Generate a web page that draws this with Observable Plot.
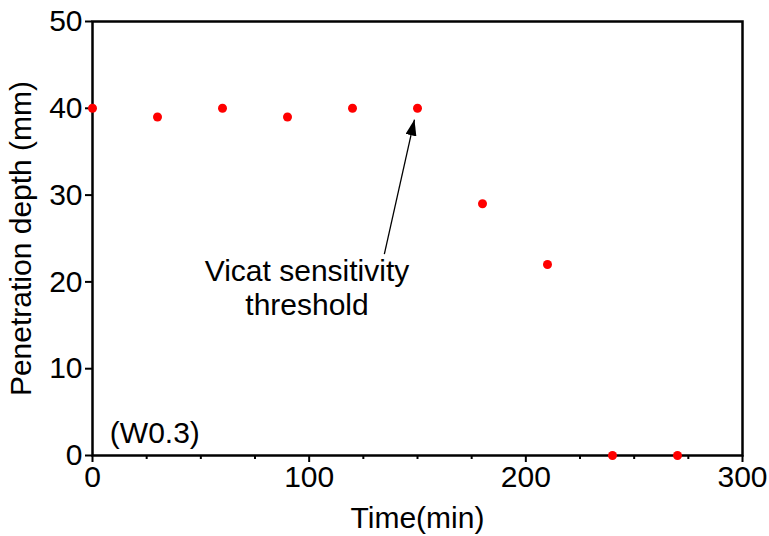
<!DOCTYPE html>
<html>
<head>
<meta charset="utf-8">
<script src="https://cdn.jsdelivr.net/npm/d3@7"></script>
<script src="https://cdn.jsdelivr.net/npm/@observablehq/plot@0.6"></script>
<style>
  html, body { margin: 0; padding: 0; background: #fff; }
  #chart svg { font-family: "Liberation Sans", Arial, sans-serif; }
</style>
</head>
<body>
<div id="chart"></div>
<script>
// Data
const times = [0, 30, 60, 90, 120, 150, 180, 210, 240, 270];
const depths = [40, 39, 40, 39, 40, 40, 29, 22, 0, 0];
const xMajorTicks = [0, 100, 200, 300];
const xMinorTicks = [25, 50, 75, 125, 150, 175, 225, 250, 275];
const yTicks = [0, 10, 20, 30, 40, 50];
const xLabel = "Time(min)";
const yLabel = "Penetration depth (mm)";
const sampleLabel = ["(W0.3)"];
const sampleLabelPos = [8, 2.5];
const noteLines = ["Vicat sensitivity", "threshold"];
const notePos = [99, 19.4];
const arrowFrom = [134.7, 23.2];
const arrowTo = [148.6, 38.7];

const points = times.map((t, i) => ({t, d: depths[i]}));

const chart = Plot.plot({
  width: 769,
  height: 536,
  marginLeft: 92,
  marginRight: 27,
  marginTop: 21,
  marginBottom: 81,
  style: {fontFamily: "'Liberation Sans', Arial, sans-serif", fontSize: "30px", color: "#000", background: "#fff"},
  x: {domain: [0, 300]},
  y: {domain: [0, 50]},
  marks: [
    Plot.frame({stroke: "#000", strokeWidth: 2.5}),
    Plot.axisX({ticks: xMinorTicks, tickSize: 4, tickFormat: () => "", strokeWidth: 2, label: null}),
    Plot.axisX({ticks: xMajorTicks, tickSize: 7, tickPadding: 3, strokeWidth: 2, fontSize: 30,
      label: xLabel, labelAnchor: "center", labelOffset: 72, labelArrow: "none"}),
    Plot.axisY({ticks: yTicks, tickSize: 7, tickPadding: 3, strokeWidth: 2, fontSize: 30,
      label: yLabel, labelAnchor: "center", labelOffset: 83, labelArrow: "none"}),
    Plot.dot(points, {x: "t", y: "d", r: 4.5, fill: "#ff0000", stroke: "none"}),
    Plot.text(sampleLabel, {x: sampleLabelPos[0], y: sampleLabelPos[1], text: d => d, textAnchor: "start", fontSize: 30, fill: "#000"}),
    Plot.text([noteLines.join("\n")], {x: notePos[0], y: notePos[1], text: d => d, textAnchor: "middle", lineHeight: 1.13, fontSize: 30, fill: "#000"}),
    Plot.link([0], {x1: () => arrowFrom[0], y1: () => arrowFrom[1], x2: () => arrowTo[0], y2: () => arrowTo[1], stroke: "#000", strokeWidth: 1.3})
  ]
});

// Filled arrowhead on the annotation link
const svgns = "http://www.w3.org/2000/svg";
const svg = chart.tagName.toLowerCase() === "svg" ? chart : chart.querySelector("svg");
const defs = document.createElementNS(svgns, "defs");
const marker = document.createElementNS(svgns, "marker");
marker.setAttribute("id", "ahead");
marker.setAttribute("viewBox", "0 0 16 11");
marker.setAttribute("refX", "16");
marker.setAttribute("refY", "5.5");
marker.setAttribute("markerWidth", "16");
marker.setAttribute("markerHeight", "11");
marker.setAttribute("markerUnits", "userSpaceOnUse");
marker.setAttribute("orient", "auto");
const mp = document.createElementNS(svgns, "path");
mp.setAttribute("d", "M0,0L16,5.5L0,11z");
mp.setAttribute("fill", "#000");
marker.appendChild(mp);
defs.appendChild(marker);
svg.insertBefore(defs, svg.firstChild);
svg.querySelectorAll('[aria-label="link"] path, [aria-label="link"] line').forEach(p => p.setAttribute("marker-end", "url(#ahead)"));

document.getElementById("chart").appendChild(chart);
</script>
</body>
</html>
